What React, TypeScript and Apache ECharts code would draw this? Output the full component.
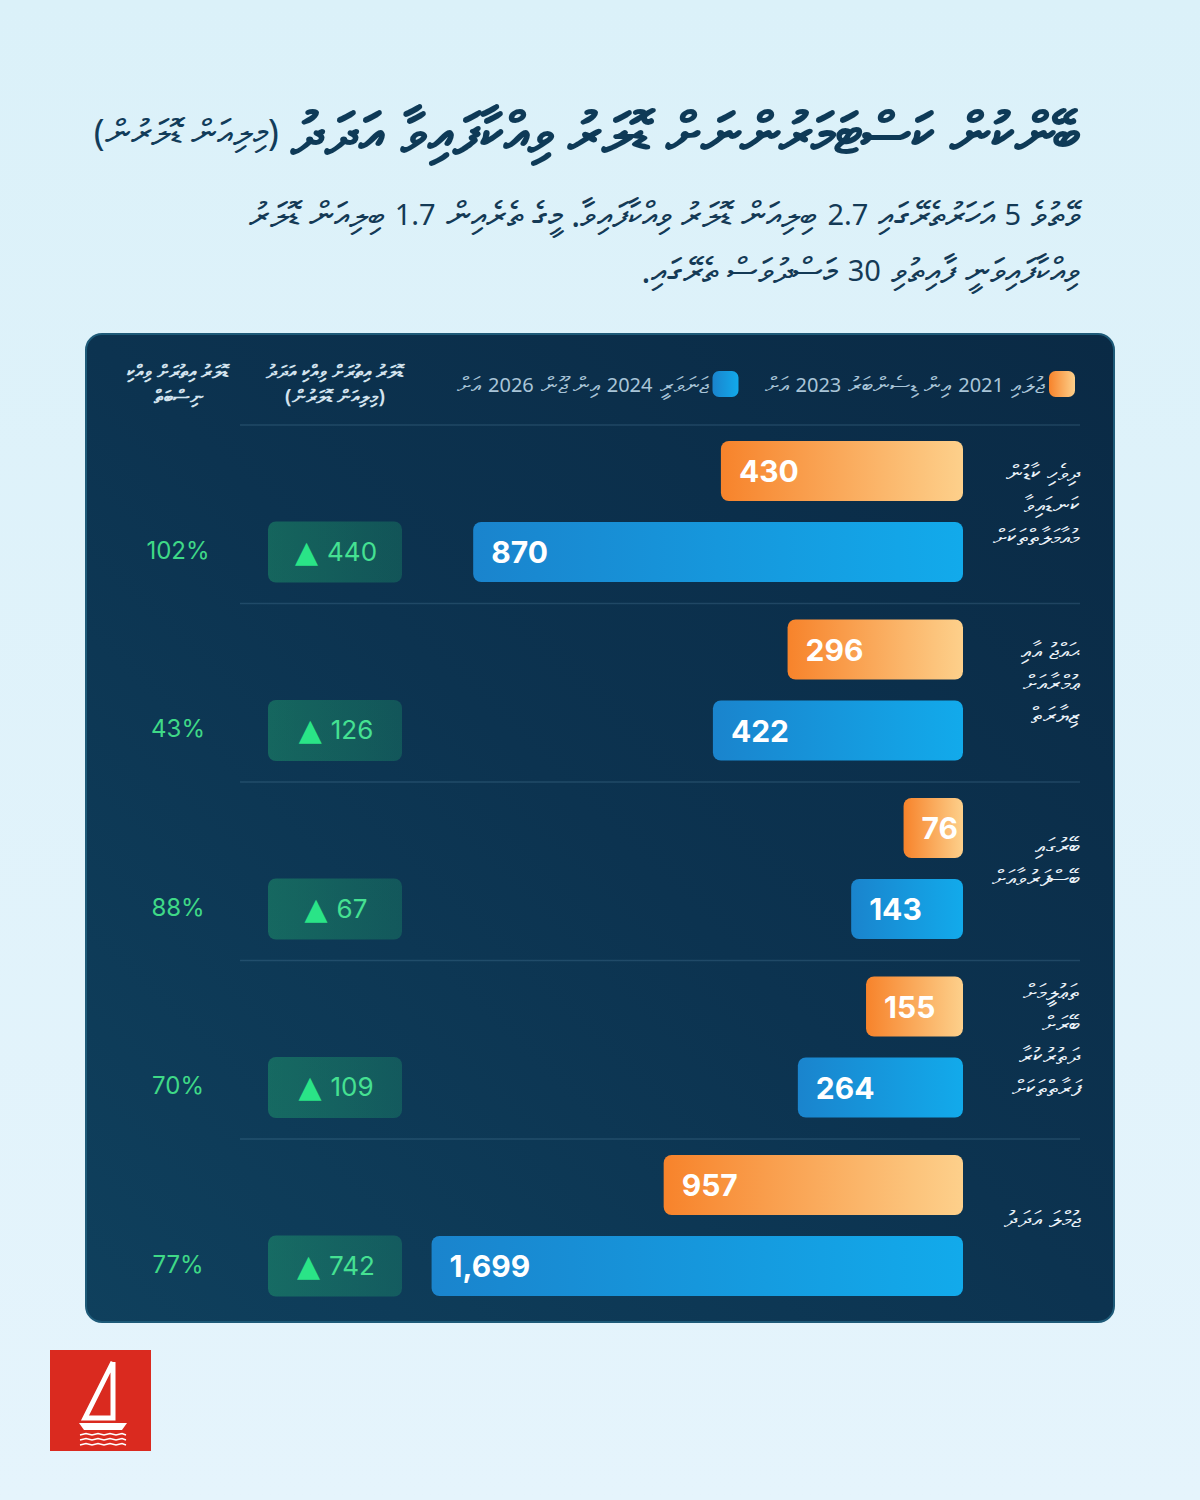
import React, { useEffect, useRef } from 'react';
import * as echarts from 'echarts';

// ---------- data ----------
const TITLE_MAIN = 'ބޭންކުން ކަސްޓަމަރުންނަށް ޑޮލަރު ވިއްކާފައިވާ އަދަދު';
const TITLE_UNIT = 'މިލިއަން ޑޮލަރުން';
const SUBTITLE_LINES = [
  'ވޭތުވެ 5 އަހަރުތެރޭގައި 2.7 ބިލިއަން ޑޮލަރު ވިއްކާފައިވާ. މީގެ ތެރެއިން 1.7 ބިލިއަން ޑޮލަރު',
  'ވިއްކާފައިވަނީ ފާއިތުވި 30 މަސްދުވަސް ތެރޭގައި.',
];
const LEGEND_P1 = 'ޖުލައި 2021 އިން ޑިސެންބަރު 2023 އަށް';
const LEGEND_P2 = 'ޖަނަވަރީ 2024 އިން ޖޫން 2026 އަށް';
const HEADER_INCREASE = ['ޑޮލަރު އިތުރަށް ވިއްކި އަދަދު', '(މިލިއަން ޑޮލަރުން)'];
const HEADER_RATIO = ['ޑޮލަރު އިތުރަށް ވިއްކި', 'ނިސްބަތް'];

const CATEGORIES: string[][] = [
  ['ދިވެހި ކާޑުން', 'ކަނޑައިވާ', 'މުއާމަލާތްތަކަށް'],
  ['ޙައްޖު އާއި', 'ޢުމްރާއަށް', 'ޒިޔާރަތް'],
  ['ބޭރުގައި', 'ބޭސްފަރުވާއަށް'],
  ['ތަޢުލީމަށް', 'ބޭރަށް', 'ދަތުރުކުރާ', 'ފަރާތްތަކަށް'],
  ['ޖުމްލަ އަދަދު'],
];
const PERIOD1 = [430, 296, 76, 155, 957];
const PERIOD2 = [870, 422, 143, 264, 1699];
const INCREASE = [440, 126, 67, 109, 742];
const GROWTH_PCT = [102, 43, 88, 70, 77];
// each row is drawn on its own value scale
const ROW_AXIS_MAX = [1000, 950, 720, 900, 1800];

// ---------- helpers ----------
const rtl = (s: string) => '\u202B' + s + '\u202C';
const fmt = (v: number) => v.toLocaleString('en-US');
const THAANA_FONT = "'Noto Sans', 'DejaVu Sans', sans-serif";
const NUM_FONT = "Inter, 'Noto Sans', sans-serif";

// rich-text string in visual (left-to-right) order for an RTL line that contains numbers
const richRtl = (line: string) => {
  const parts = line.split(/(\d[\d.,]*\d|\d)/).filter((p) => p.length > 0);
  const logical: string[] = [];
  parts.forEach((p) => {
    if (/^\d/.test(p)) {
      logical.push('{n|' + p + '}');
    } else {
      const tr = p.trim();
      if (/^\s/.test(p)) logical.push('{g| }');
      if (tr) logical.push('{t|' + rtl(tr) + '}');
      if (/\s$/.test(p) && tr) logical.push('{g| }');
    }
  });
  return logical.reverse().join('');
};

const ROW_TOP0 = 430.5;
const ROW_STEP = 178.5;
const ROW_H = 162;

export default function App() {
  const ref = useRef<HTMLDivElement>(null);

  useEffect(() => {
    if (!ref.current) return;
    const chart = echarts.init(ref.current, undefined, { renderer: 'svg' });

    const orange = new echarts.graphic.LinearGradient(0, 0, 1, 0, [
      { offset: 0, color: '#f7832b' },
      { offset: 1, color: '#fdd08b' },
    ]);
    const blue = new echarts.graphic.LinearGradient(0, 0, 1, 0, [
      { offset: 0, color: '#1a84cd' },
      { offset: 1, color: '#12aaeb' },
    ]);

    const rows = PERIOD1.map((_, i) => i);
    const grids = rows.map((i) => ({
      left: 400,
      right: 237,
      top: ROW_TOP0 + i * ROW_STEP,
      height: ROW_H,
    }));
    const xAxes = rows.map((i) => ({
      gridIndex: i,
      type: 'value',
      inverse: true,
      min: 0,
      max: ROW_AXIS_MAX[i],
      show: false,
    }));
    const yAxes = rows.map((i) => ({
      gridIndex: i,
      type: 'category',
      data: ['p1', 'p2'],
      inverse: true,
      show: false,
    }));

    const barLabel = {
      show: true,
      position: 'insideLeft',
      distance: 18,
      color: '#ffffff',
      fontSize: 30,
      fontWeight: 'bold',
      fontFamily: NUM_FONT,
      formatter: (p: any) => fmt(p.value),
    };

    const series: any[] = [];
    rows.forEach((i) => {
      series.push({
        type: 'bar',
        name: LEGEND_P1,
        xAxisIndex: i,
        yAxisIndex: i,
        data: [PERIOD1[i], '-'],
        barWidth: 60,
        barGap: '-100%',
        itemStyle: { color: orange, borderRadius: 8 },
        label: barLabel,
      });
      series.push({
        type: 'bar',
        name: LEGEND_P2,
        xAxisIndex: i,
        yAxisIndex: i,
        data: ['-', PERIOD2[i]],
        barWidth: 60,
        barGap: '-100%',
        itemStyle: { color: blue, borderRadius: 8 },
        label: barLabel,
      });
      series.push({
        type: 'custom',
        xAxisIndex: i,
        yAxisIndex: i,
        data: [[0, 1]],
        silent: true,
        z: 5,
        renderItem: (_params: any, api: any) => {
          const p0 = api.coord([0, 0]);
          const p1 = api.coord([0, 1]);
          const yc = (p0[1] + p1[1]) / 2;
          const yb = p1[1];
          return {
            type: 'group',
            children: [
              {
                type: 'rect',
                shape: { x: 268, y: yb - 30.5, width: 134, height: 61, r: 8 },
                style: {
                  fill: new echarts.graphic.LinearGradient(0, 0, 1, 0, [
                    { offset: 0, color: 'rgba(40,205,120,0.32)' },
                    { offset: 1, color: 'rgba(40,205,120,0.22)' },
                  ]),
                },
              },
              {
                type: 'text',
                x: 336,
                y: yb - 1,
                style: {
                  text: '{t|▲}{s| }{n|' + INCREASE[i] + '}',
                  align: 'center',
                  verticalAlign: 'middle',
                  rich: {
                    t: { fontSize: 30, fill: '#2ae487', color: '#2ae487', fontFamily: "'DejaVu Sans'", verticalAlign: 'middle' },
                    s: { width: 9, fontSize: 10 },
                    n: { fontSize: 26, fill: '#45e192', color: '#45e192', fontFamily: NUM_FONT, verticalAlign: 'middle' },
                  },
                },
              },
              {
                type: 'text',
                x: 178,
                y: yb - 2,
                style: {
                  text: GROWTH_PCT[i] + '%',
                  fill: '#3fd987',
                  fontSize: 24,
                  fontFamily: NUM_FONT,
                  align: 'center',
                  verticalAlign: 'middle',
                },
              },
              {
                type: 'text',
                x: 1080,
                y: yc - 8,
                style: {
                  text: CATEGORIES[i].join('\n'),
                  fill: '#eaf2f8',
                  fontSize: 23,
                  lineHeight: 32,
                  fontFamily: THAANA_FONT,
                  align: 'right',
                  verticalAlign: 'middle',
                },
              },
            ],
          };
        },
      });
    });

    const sepYs = rows.map((i) => ROW_TOP0 + i * ROW_STEP - 5.5);

    const graphic: any[] = [
      {
        type: 'rect',
        z: -10,
        shape: { x: 86, y: 334, width: 1028, height: 988, r: 16 },
        style: {
          fill: new echarts.graphic.LinearGradient(0, 1, 1, 0, [
            { offset: 0, color: '#0f405d' },
            { offset: 0.5, color: '#0c3350' },
            { offset: 1, color: '#0a2a45' },
          ]),
          stroke: '#1e5a78',
          lineWidth: 2,
        },
      },
      ...sepYs.map((y) => ({
        type: 'line',
        z: -5,
        shape: { x1: 240, y1: y, x2: 1080, y2: y },
        style: { stroke: 'rgba(130,180,210,0.18)', lineWidth: 1.5 },
      })),
      {
        type: 'text',
        x: 1080,
        y: 131,
        style: {
          text: '{p|(}{p|' + rtl(TITLE_UNIT) + '}{p|)}{s| }{b|' + rtl(TITLE_MAIN) + '}',
          align: 'right',
          verticalAlign: 'middle',
          rich: {
            p: { fontSize: 36, fill: '#123c5a', fontFamily: THAANA_FONT, verticalAlign: 'middle' },
            s: { width: 12, fontSize: 10 },
            b: { fontSize: 57, fontWeight: 'bold', fill: '#0e3a57', fontFamily: THAANA_FONT, verticalAlign: 'middle' },
          },
        },
      },
      ...SUBTITLE_LINES.map((line, k) => ({
        type: 'text',
        x: 1080,
        y: 213 + k * 56,
        style: {
          text: richRtl(line),
          align: 'right',
          verticalAlign: 'middle',
          rich: {
            t: { fontSize: 35, fill: '#143a56', fontFamily: THAANA_FONT, verticalAlign: 'middle' },
            n: { fontSize: 29, fill: '#143a56', fontFamily: "'Noto Sans', sans-serif", verticalAlign: 'middle' },
            g: { width: 10, fontSize: 10 },
          },
        },
      })),
      {
        type: 'text',
        x: 335,
        y: 383,
        style: {
          text: HEADER_INCREASE.map(rtl).join('\n'),
          align: 'center',
          verticalAlign: 'middle',
          fontSize: 19,
          lineHeight: 25,
          fontWeight: 'bold',
          fill: '#d3e3ee',
          fontFamily: THAANA_FONT,
        },
      },
      {
        type: 'text',
        x: 178,
        y: 383,
        style: {
          text: HEADER_RATIO.map(rtl).join('\n'),
          align: 'center',
          verticalAlign: 'middle',
          fontSize: 19,
          lineHeight: 25,
          fontWeight: 'bold',
          fill: '#d3e3ee',
          fontFamily: THAANA_FONT,
        },
      },
      // logo
      {
        type: 'rect',
        shape: { x: 50, y: 1350, width: 101, height: 101 },
        style: { fill: '#da2a1f' },
      },
      {
        type: 'polyline',
        shape: { points: [[113, 1362], [85, 1418], [113, 1418], [113, 1362]] },
        style: { stroke: '#ffffff', lineWidth: 5, fill: 'none', lineJoin: 'miter' },
      },
      {
        type: 'polygon',
        shape: { points: [[79, 1423], [127, 1423], [122, 1430], [84, 1430]] },
        style: { fill: '#ffffff' },
      },
      ...[1435, 1440, 1445].map((y) => ({
        type: 'polyline',
        shape: {
          points: [[80, y], [86, y - 1.5], [92, y], [98, y - 1.5], [104, y], [110, y - 1.5], [116, y], [122, y - 1.5], [126, y]],
        },
        style: { stroke: '#ffffff', lineWidth: 1.6, fill: 'none' },
      })),
    ];

    chart.setOption({
      animation: false,
      backgroundColor: new echarts.graphic.LinearGradient(0, 0, 0, 1, [
        { offset: 0, color: '#dbf1f9' },
        { offset: 1, color: '#e5f4fc' },
      ]),
      legend: {
        right: 120,
        top: 366,
        align: 'right',
        icon: 'roundRect',
        itemWidth: 26,
        itemHeight: 26,
        itemGap: 26,
        data: [LEGEND_P2, LEGEND_P1],
        formatter: (n: string) => richRtl(n),
        textStyle: {
          color: '#a9c5d8',
          fontSize: 20,
          fontFamily: THAANA_FONT,
          rich: {
            t: { fontSize: 23, color: '#a9c5d8', fontFamily: THAANA_FONT },
            n: { fontSize: 20, color: '#a9c5d8', fontFamily: "'Noto Sans', sans-serif" },
            g: { width: 7, fontSize: 10 },
          },
        },
        selectedMode: false,
      },
      grid: grids,
      xAxis: xAxes,
      yAxis: yAxes,
      series,
      graphic,
    });

    return () => chart.dispose();
  }, []);

  return (
    <div
      ref={ref}
      style={{ position: 'absolute', left: 0, top: 0, width: 1200, height: 1500 }}
    />
  );
}
